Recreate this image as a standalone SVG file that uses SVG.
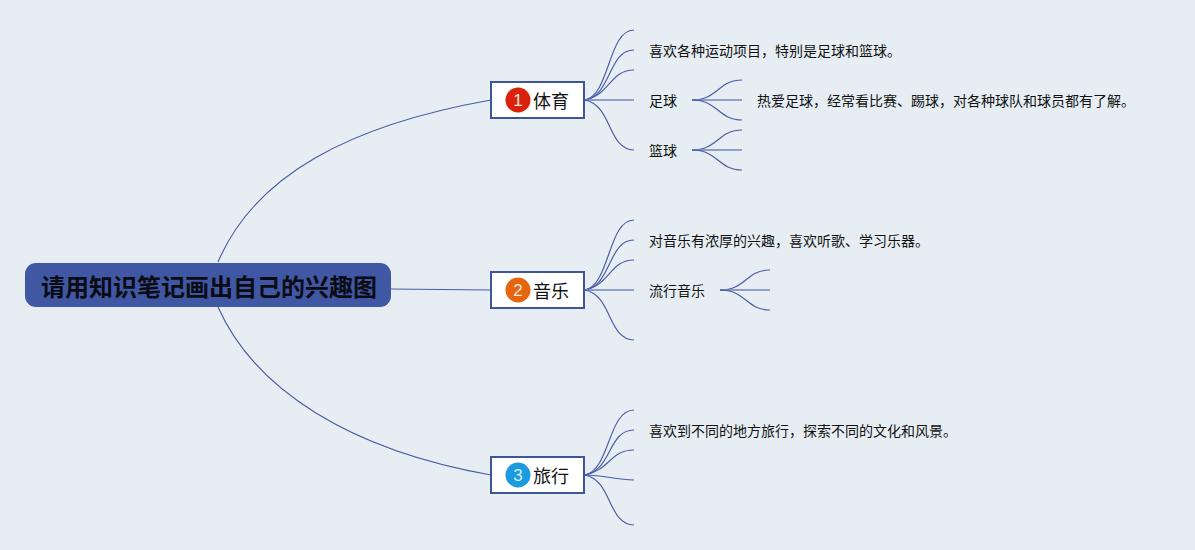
<svg xmlns="http://www.w3.org/2000/svg" width="1195" height="550" viewBox="0 0 1195 550">
<style>
text{font-family:"Noto Sans CJK SC","Liberation Sans",sans-serif;fill:#111}
.l{font-size:14px}
.t{font-size:18px}
.n{font-size:17px;fill:#f4e6dc;text-anchor:middle;font-family:"Liberation Sans",sans-serif}
.c{fill:none;stroke:#4a5ca5;stroke-width:1.15}
.s{fill:none;stroke:#7384bb;stroke-width:1.5}
.b{fill:#fff;stroke:#3f5599;stroke-width:2}
</style>
<rect width="1195" height="550" fill="#e6eef3"/>
<g id="connectors">
<path class="c" d="M218 262C255 175 350 125 491 100"/>
<path class="c" d="M218 307C255 390 350 450 491 475"/>
<path class="c" d="M390 289L491 290"/>
<g id="c1">
<path class="c" d="M585 100C610 95 608 30 634 30"/>
<path class="c" d="M585 100C612 95 608 50 634 50"/>
<path class="c" d="M585 100C610 95 610 70 634 70"/>
<path class="s" d="M585 100H634"/>
<path class="c" d="M585 100C612 105 608 150 634 150"/>
<path class="s" d="M692 100H702"/>
<path class="c" d="M692 100C718 100 718 80 742 80"/>
<path class="s" d="M692 100H742"/>
<path class="c" d="M692 100C718 100 718 120 742 120"/>
<path class="s" d="M692 150H702"/>
<path class="c" d="M692 150C718 150 718 130 742 130"/>
<path class="s" d="M692 150H742"/>
<path class="c" d="M692 150C718 150 718 170 742 170"/>
</g>
<g id="c2">
<path class="c" d="M585 290C610 285 608 220 634 220"/>
<path class="c" d="M585 290C612 285 608 240 634 240"/>
<path class="c" d="M585 290C610 285 610 260 634 260"/>
<path class="s" d="M585 290H634"/>
<path class="c" d="M585 290C612 295 608 340 634 340"/>
<path class="s" d="M720 290H730"/>
<path class="c" d="M720 290C746 290 746 270 770 270"/>
<path class="s" d="M720 290H770"/>
<path class="c" d="M720 290C746 290 746 310 770 310"/>
</g>
<g id="c3">
<path class="c" d="M585 475C610 470 608 410 634 410"/>
<path class="c" d="M585 475C612 470 608 430 634 430"/>
<path class="c" d="M585 475C610 470 610 450 634 450"/>
<path class="c" d="M585 475C605 475 615 480 634 480"/>
<path class="c" d="M585 475C612 480 608 525 634 525"/>
</g>
</g>
<g id="root">
<rect x="25" y="263" width="366" height="44" rx="11" fill="#4058a3"/>
<text x="209" y="295.500" font-size="24" font-weight="700" text-anchor="middle" style="fill:#0b0b14">请用知识笔记画出自己的兴趣图</text>
</g>
<g id="topic1">
<rect class="b" x="491" y="82" width="93" height="36"/>
<circle cx="518" cy="100" r="12.500" fill="#d9210b"/>
<text class="n" x="518" y="106">1</text>
<text class="t" x="533" y="108">体育</text>
</g>
<g id="topic2">
<rect class="b" x="491" y="272" width="93" height="36"/>
<circle cx="518" cy="290" r="12.500" fill="#e5660f"/>
<text class="n" x="518" y="296">2</text>
<text class="t" x="533" y="298">音乐</text>
</g>
<g id="topic3">
<rect class="b" x="491" y="457" width="93" height="36"/>
<circle cx="518" cy="475" r="12.500" fill="#1b9ade"/>
<text class="n" x="518" y="481" style="fill:#d6ecf8">3</text>
<text class="t" x="533" y="483">旅行</text>
</g>
<g id="n1"><text class="l" x="649" y="56">喜欢各种运动项目，特别是足球和篮球。</text></g>
<g id="n2"><text class="l" x="649" y="106">足球</text></g>
<g id="n3"><text class="l" x="757" y="106">热爱足球，经常看比赛、踢球，对各种球队和球员都有了解。</text></g>
<g id="n4"><text class="l" x="649" y="156">篮球</text></g>
<g id="n5"><text class="l" x="649" y="246">对音乐有浓厚的兴趣，喜欢听歌、学习乐器。</text></g>
<g id="n6"><text class="l" x="649" y="296">流行音乐</text></g>
<g id="n7"><text class="l" x="649" y="436">喜欢到不同的地方旅行，探索不同的文化和风景。</text></g>
</svg>
